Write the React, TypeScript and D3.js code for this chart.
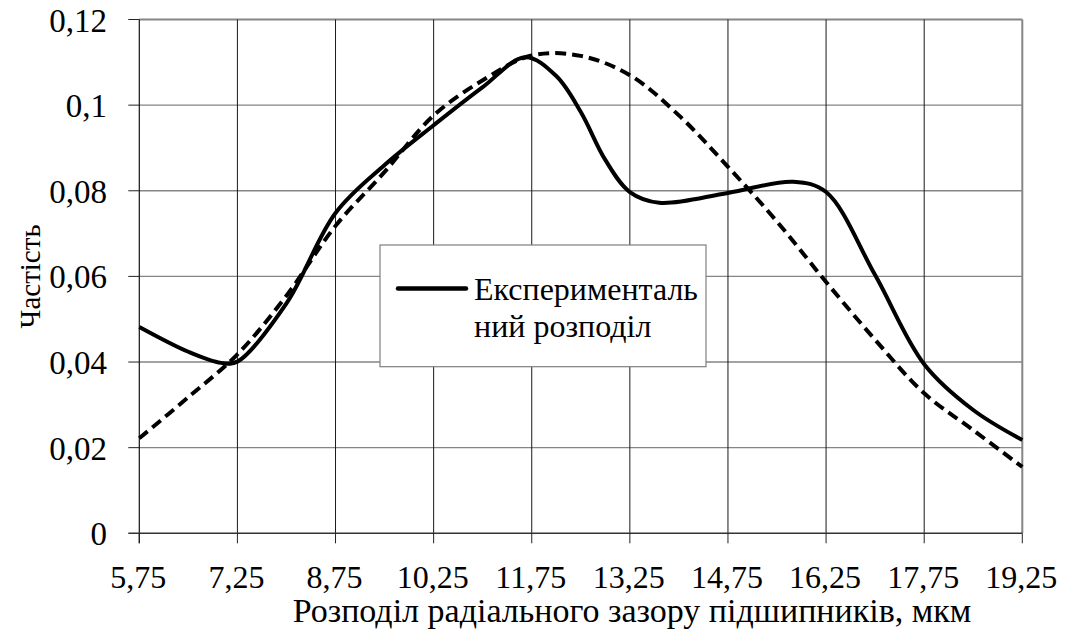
import { useRef, useEffect } from 'react';
import * as d3 from 'd3';

// experimental distribution (solid): x positions (мкм) and frequency
const EXP_X = [5.75, 6.5, 7.0, 7.25, 8.0, 8.75, 9.5, 10.25, 11.0, 11.65, 12.125, 12.5, 12.875, 13.25, 13.7, 14.75, 15.75, 16.25, 17.0, 17.75, 18.5, 19.25];
const EXPERIMENTAL = [0.0482, 0.0424, 0.0398, 0.0401, 0.0537, 0.0748, 0.086, 0.0953, 0.1042, 0.1112, 0.1068, 0.0984, 0.0872, 0.0797, 0.0772, 0.0795, 0.0821, 0.0797, 0.0603, 0.0395, 0.0288, 0.0218];
// theoretical distribution (dashed)
const THEO_X = [5.75, 6.5, 7.25, 8.0, 8.75, 9.5, 10.25, 11.0, 11.75, 12.5, 13.25, 14.0, 14.75, 15.5, 16.25, 17.0, 17.75, 18.5, 19.25];
const THEORETICAL = [0.0222, 0.0318, 0.0418, 0.0555, 0.0718, 0.0844, 0.0976, 0.1058, 0.1116, 0.1115, 0.107, 0.0976, 0.0856, 0.0728, 0.0587, 0.0452, 0.0327, 0.0241, 0.0155];

const X_TICKS = [5.75, 7.25, 8.75, 10.25, 11.75, 13.25, 14.75, 16.25, 17.75, 19.25];
const X_TICK_LABELS = ['5,75', '7,25', '8,75', '10,25', '11,75', '13,25', '14,75', '16,25', '17,75', '19,25'];
const Y_TICKS = [0, 0.02, 0.04, 0.06, 0.08, 0.1, 0.12];
const Y_TICK_LABELS = ['0', '0,02', '0,04', '0,06', '0,08', '0,1', '0,12'];

const W = 1067, H = 637;
const FONT = '"Liberation Serif", "Times New Roman", Times, Tinos, "Noto Serif", "DejaVu Serif", FreeSerif, serif';

export default function App() {
  const ref = useRef<SVGSVGElement>(null);

  useEffect(() => {
    document.body.style.margin = '0';
    const svg = ref.current;
    if (!svg) return;
    d3.select(svg).selectAll('*').remove();
    const g = d3.select(svg).append('g').style('font-family', FONT);

    const left = 139.3, right = 1022.3, top = 19.5, bottom = 533.3;
    const x = d3.scaleLinear().domain([5.75, 19.25]).range([left, right]);
    const y = d3.scaleLinear().domain([0, 0.12]).range([bottom, top]);

    // horizontal grid
    Y_TICKS.forEach((v, i) => {
      if (v === 0) return;
      const isTop = i === Y_TICKS.length - 1;
      g.append('line').attr('x1', left).attr('x2', right).attr('y1', y(v)).attr('y2', y(v))
        .attr('stroke', '#858585').attr('stroke-width', isTop ? 2 : 1.4);
      g.append('line').attr('x1', left - 11).attr('x2', left).attr('y1', y(v)).attr('y2', y(v))
        .attr('stroke', '#222').attr('stroke-width', 1);
    });

    // vertical grid
    X_TICKS.forEach((v, i) => {
      if (i === 0) return;
      const isRight = i === X_TICKS.length - 1;
      g.append('line').attr('x1', x(v)).attr('x2', x(v)).attr('y1', top).attr('y2', bottom)
        .attr('stroke', isRight ? '#858585' : '#1a1a1a').attr('stroke-width', isRight ? 2 : 1);
    });

    // axes
    g.append('line').attr('x1', left).attr('x2', left).attr('y1', top).attr('y2', bottom + 10)
      .attr('stroke', '#111').attr('stroke-width', 1.2);
    g.append('line').attr('x1', left - 11).attr('x2', right).attr('y1', bottom).attr('y2', bottom)
      .attr('stroke', '#333').attr('stroke-width', 1.4);
    X_TICKS.forEach((v) => {
      g.append('line').attr('x1', x(v)).attr('x2', x(v)).attr('y1', bottom).attr('y2', bottom + 10)
        .attr('stroke', '#222').attr('stroke-width', 1);
    });

    // tick labels
    X_TICKS.forEach((v, i) => {
      g.append('text').attr('x', x(v) - 1).attr('y', 588).attr('text-anchor', 'middle')
        .attr('font-size', 32).attr('fill', '#000').text(X_TICK_LABELS[i]);
    });
    Y_TICKS.forEach((v, i) => {
      g.append('text').attr('x', 107).attr('y', y(v) + 12).attr('text-anchor', 'end')
        .attr('font-size', 33).attr('fill', '#000').text(Y_TICK_LABELS[i]);
    });

    // axis titles
    g.append('text').attr('x', 632).attr('y', 622).attr('text-anchor', 'middle')
      .attr('font-size', 34).attr('fill', '#000')
      .text('Розподіл радіального зазору підшипників, мкм');
    g.append('text').attr('transform', `translate(40,${(top + bottom) / 2}) rotate(-90)`)
      .attr('text-anchor', 'middle').attr('font-size', 29).attr('fill', '#000')
      .text('Частість');

    const lineOf = (xs: number[]) => d3.line<number>()
      .x((_, i) => x(xs[i]))
      .y((d) => y(d))
      .curve(d3.curveCatmullRom.alpha(0.5));

    g.append('path').datum(THEORETICAL).attr('d', lineOf(THEO_X)).attr('fill', 'none')
      .attr('stroke', '#000').attr('stroke-width', 4).attr('stroke-dasharray', '11,6');
    g.append('path').datum(EXPERIMENTAL).attr('d', lineOf(EXP_X)).attr('fill', 'none')
      .attr('stroke', '#000').attr('stroke-width', 4).attr('stroke-linejoin', 'round');

    // legend
    const lg = g.append('g');
    lg.append('rect').attr('x', 380).attr('y', 245).attr('width', 326).attr('height', 121.7)
      .attr('fill', '#fff').attr('stroke', '#7f7f7f').attr('stroke-width', 1.2);
    lg.append('line').attr('x1', 398).attr('x2', 466).attr('y1', 288.5).attr('y2', 288.5)
      .attr('stroke', '#000').attr('stroke-width', 4.5).attr('stroke-linecap', 'round');
    lg.append('text').attr('x', 474).attr('y', 300).attr('font-size', 32)
      .attr('fill', '#000').text('Експерименталь');
    lg.append('text').attr('x', 474).attr('y', 337).attr('font-size', 32)
      .attr('fill', '#000').text('ний розподіл');
  }, []);

  return <svg ref={ref} width={W} height={H} style={{ display: 'block', background: '#fff' }} />;
}
